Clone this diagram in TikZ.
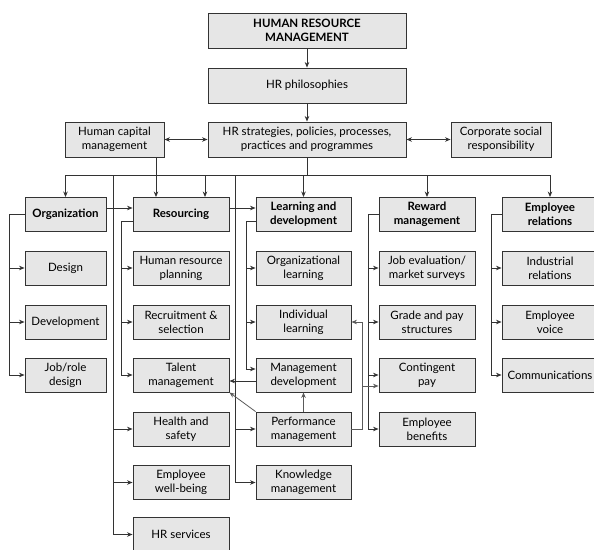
\documentclass[tikz,border=0pt]{standalone}
\usepackage{fontspec}
\setmainfont{Lato}
\usepackage{xcolor}
\definecolor{hrfill}{HTML}{E6E6E6}
\definecolor{hrline}{HTML}{333333}
\definecolor{hrgrey}{HTML}{5A5A5A}
\usetikzlibrary{calc,positioning,arrows.meta}
\begin{document}
\begin{tikzpicture}[x=1pt,y=-1pt,>={Stealth[length=5.5pt,width=4.5pt]}]
		\tikzstyle{boxstyle} = [draw=hrline,fill=hrfill,line width=.9pt,inner sep=0pt,align=center,minimum width=96,minimum height=34,font=\fontsize{11.5}{14}\selectfont]
		\tikzstyle{headstyle} = [boxstyle,font=\fontsize{11.5}{14}\selectfont\bfseries]
		\tikzstyle{linkstyle} = [->,line width=.8pt,hrline]
		\tikzstyle{greystyle} = [linkstyle,hrgrey]
		\useasboundingbox (0,0) rectangle (594,549);
		% top of the chart
		\node[headstyle,minimum width=198,minimum height=35] (hrm) at (307,30.5) {HUMAN RESOURCE\\MANAGEMENT};
		\node[boxstyle,minimum width=198,minimum height=35] (phil) at (307,85.5) {HR philosophies};
		\node[boxstyle,minimum width=198,minimum height=35] (strat) at (307,139.5) {HR strategies, policies, processes,\\practices and programmes};
		\node[boxstyle,minimum width=99,minimum height=35] (hcm) at (114.5,139.5) {Human capital\\management};
		\node[boxstyle,minimum width=100,minimum height=35] (csr) at (501,139.5) {Corporate social\\responsibility};
		% column heads
		\node[headstyle,minimum width=81] (org) at (65.5,214.5) {Organization};
		\node[headstyle] (res) at (181,214.5) {Resourcing};
		\node[headstyle,minimum width=95] (learn) at (303.5,214.5) {Learning and\\development};
		\node[headstyle] (reward) at (427,214.5) {Reward\\management};
		\node[headstyle] (er) at (550,214.5) {Employee\\relations};
		% organization
		\node[boxstyle,minimum width=81] (design) at (65.5,268) {Design};
		\node[boxstyle,minimum width=81] (devel) at (65.5,322) {Development};
		\node[boxstyle,minimum width=81] (jobrole) at (65.5,375) {Job/role\\design};
		% resourcing
		\node[boxstyle] (hrp) at (181,268) {Human resource\\planning};
		\node[boxstyle] (recr) at (181,322) {Recruitment \&\\selection};
		\node[boxstyle] (talent) at (181,375) {Talent\\management};
		\node[boxstyle] (hs) at (181,429) {Health and\\safety};
		\node[boxstyle] (wb) at (181,482.5) {Employee\\well-being};
		\node[boxstyle] (hrs) at (181,534.5) {HR services};
		% learning and development
		\node[boxstyle,minimum width=95] (orgl) at (303.5,268) {Organizational\\learning};
		\node[boxstyle,minimum width=95] (indl) at (303.5,322) {Individual\\learning};
		\node[boxstyle,minimum width=95] (mdev) at (303.5,375) {Management\\development};
		\node[boxstyle,minimum width=95] (perf) at (303.5,429) {Performance\\management};
		\node[boxstyle,minimum width=95] (know) at (303.5,482.5) {Knowledge\\management};
		% reward
		\node[boxstyle] (jobe) at (427,268) {Job evaluation/\\market surveys};
		\node[boxstyle] (grade) at (427,322) {Grade and pay\\structures};
		\node[boxstyle] (contp) at (427,375) {Contingent\\pay};
		\node[boxstyle] (benef) at (427,429) {Employee\\benefits};
		% employee relations
		\node[boxstyle] (indr) at (550,268) {Industrial\\relations};
		\node[boxstyle] (voice) at (550,322) {Employee\\voice};
		\node[boxstyle] (comm) at (550,375) {Communications};
		% links at the top
		\draw[linkstyle] (hrm) -- (phil);
		\draw[linkstyle] (phil) -- (strat);
		\draw[linkstyle,<->] (hcm) -- (strat);
		\draw[linkstyle,<->] (strat) -- (csr);
		\coordinate (bus) at (0,175);
		\draw[line width=.8pt,hrline] (strat) -- (strat |- bus);
		\draw[line width=.8pt,hrline] (bus -| org) -- (bus -| er);
		\foreach \n in {org,learn,reward,er}
			\draw[linkstyle] (bus -| \n) -- (\n);
		\coordinate (hcmdown) at (156,157);
		\draw[linkstyle] (hcmdown) -- (hcmdown |- res.north);
		\coordinate (resdown) at (205,175);
		\draw[linkstyle] (resdown) -- (resdown |- res.north);
		% long lines from the bus
		\coordinate (spineA) at (113,175);
		\draw[linkstyle] (spineA) |- (hrs);
		\foreach \n in {hs,wb}
			\draw[linkstyle] (spineA |- \n) -- (\n);
		\coordinate (spineB) at (235,175);
		\draw[linkstyle] (spineB) |- (know);
		\draw[linkstyle] (spineB |- perf) -- (perf);
		% brackets of the columns
		\coordinate (orgbr) at (9,214.5);
		\draw[linkstyle] (org.west) -- (orgbr) |- (jobrole);
		\foreach \n in {design,devel}
			\draw[linkstyle] (orgbr |- \n) -- (\n);
		\coordinate (resbr) at (121,221);
		\draw[linkstyle] (res.west |- resbr) -- (resbr) |- (talent);
		\foreach \n in {hrp,recr}
			\draw[linkstyle] (resbr |- \n) -- (\n);
		\coordinate (learnbr) at (246,221);
		\draw[linkstyle] (learn.west |- learnbr) -- (learnbr) |- ([yshift=6pt]mdev.west);
		\foreach \n in {orgl,indl}
			\draw[linkstyle] (learnbr |- \n) -- (\n);
		\coordinate (rewbr) at (368,214.5);
		\draw[linkstyle] (reward.west) -- (rewbr) |- (benef);
		\foreach \n in {jobe,grade,contp}
			\draw[linkstyle] (rewbr |- \n) -- (\n);
		\coordinate (erbr) at (491,214.5);
		\draw[linkstyle] (er.west) -- (erbr) |- (comm);
		\foreach \n in {indr,voice}
			\draw[linkstyle] (erbr |- \n) -- (\n);
		% between the column heads
		\draw[linkstyle] ([yshift=6.5pt]org.east) -- ([yshift=6.5pt]res.west);
		\draw[linkstyle] ([yshift=6.5pt]res.east) -- ([yshift=6.5pt]learn.west);
		% performance and talent
		\draw[linkstyle] ([yshift=-6pt]mdev.west) -- ([yshift=-6pt]talent.east);
		\draw[greystyle] (perf) -- (mdev);
		\draw[greystyle] (perf.north west) -- (talent.south east);
		\coordinate (perfbr) at (362,429);
		\coordinate (perfmid) at (362,386);
		\draw[greystyle] (perf.east) -- (perfbr) |- (indl.east);
		\draw[greystyle] (perfmid) -- (contp.west |- perfmid);
	\end{tikzpicture}
\end{document}
